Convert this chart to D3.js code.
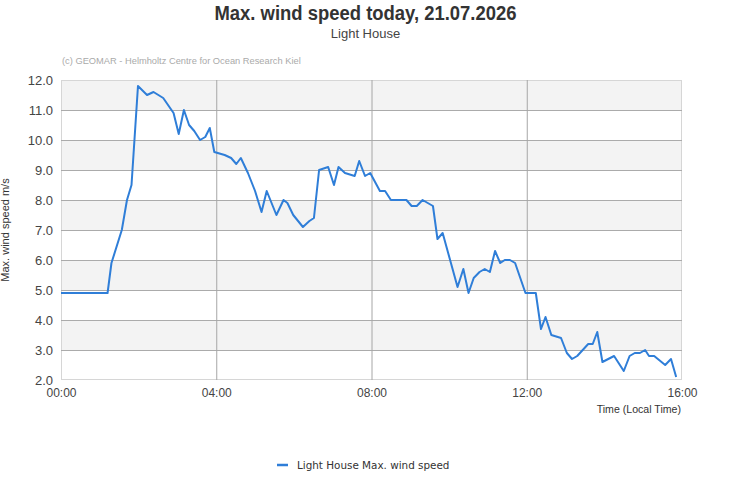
<!DOCTYPE html>
<html>
<head>
<meta charset="utf-8">
<script src="https://cdn.jsdelivr.net/npm/d3@7"></script>
<style>
  body { margin: 0; background: #fff; }
  svg { display: block; }
</style>
</head>
<body>
<div class="chart"></div>
<script>
// data (local time, m/s)
const times = ["00:00","01:12","01:18","01:34","01:42","01:49","01:59","02:13","02:23","02:38",
  "02:54","03:02","03:10","03:18","03:26","03:35","03:43","03:50","03:57","04:13",
  "04:23","04:31","04:38","04:49","05:00","05:10","05:18","05:33","05:44","05:50",
  "05:59","06:14","06:24","06:31","06:39","06:53","07:02","07:09","07:19","07:34",
  "07:41","07:50","07:58","08:13","08:21","08:30","08:54","09:02","09:10","09:19",
  "09:35","09:42","09:50","10:13","10:22","10:30","10:38","10:47","10:55","11:03",
  "11:11","11:19","11:26","11:34","11:42","11:50","11:58","12:14","12:22","12:29",
  "12:38","12:53","13:02","13:10","13:18","13:35","13:42","13:49","13:57","14:15",
  "14:30","14:39","14:47","14:55","15:03","15:09","15:17","15:34","15:43","15:51"];
const speeds = [4.9,4.9,5.9,7.0,8.0,8.5,11.8,11.5,11.6,11.4,
  10.9,10.2,11.0,10.5,10.3,10.0,10.1,10.4,9.6,9.5,
  9.4,9.2,9.4,8.9,8.3,7.6,8.3,7.5,8.0,7.9,
  7.5,7.1,7.3,7.4,9.0,9.1,8.5,9.1,8.9,8.8,
  9.3,8.8,8.9,8.3,8.3,8.0,8.0,7.8,7.8,8.0,
  7.8,6.7,6.9,5.1,5.7,4.9,5.4,5.6,5.7,5.6,
  6.3,5.9,6.0,6.0,5.9,5.4,4.9,4.9,3.7,4.1,
  3.5,3.4,2.9,2.7,2.8,3.2,3.2,3.6,2.6,2.8,
  2.3,2.8,2.9,2.9,3.0,2.8,2.8,2.5,2.7,2.1];
const xTicks = ["00:00","04:00","08:00","12:00","16:00"];
const yTicks = [2,3,4,5,6,7,8,9,10,11,12];
const seriesName = "Light House Max. wind speed";

const width = 731, height = 500;
const margin = { top: 80, right: 49, bottom: 120, left: 61 };
const parseTime = d3.timeParse("%H:%M");
const data = times.map((t, i) => ({ date: parseTime(t), value: speeds[i] }));

const svg = d3.select(".chart").append("svg")
  .attr("width", width)
  .attr("height", height)
  .style("font-family", "'Liberation Sans', Arial, sans-serif");

const xScale = d3.scaleTime()
  .domain([parseTime(xTicks[0]), d3.timeHour.offset(parseTime(xTicks[0]), 16)])
  .range([margin.left, width - margin.right]);
const yScale = d3.scaleLinear()
  .domain([2, 12])
  .range([height - margin.bottom, margin.top]);

// alternating bands
svg.append("g")
  .selectAll("rect")
  .data(yTicks.slice(0, -1))
  .join("rect")
  .attr("x", margin.left)
  .attr("width", width - margin.right - margin.left)
  .attr("y", d => yScale(d + 1))
  .attr("height", d => yScale(d) - yScale(d + 1))
  .attr("fill", d => d % 2 === 1 ? "#f3f3f3" : "#ffffff");

// plot frame
svg.append("rect")
  .attr("x", margin.left + 0.5)
  .attr("y", margin.top + 0.5)
  .attr("width", width - margin.right - margin.left - 1)
  .attr("height", yScale(2) - yScale(12) - 1)
  .attr("fill", "none")
  .attr("stroke", "#d6d6d6");

// y axis + horizontal grid
svg.append("g")
  .attr("transform", `translate(${margin.left},0)`)
  .call(d3.axisLeft(yScale).tickValues(yTicks).tickFormat(d3.format(".1f")).tickSize(0).tickPadding(8))
  .call(g => g.select(".domain").remove())
  .call(g => g.selectAll(".tick text")
    .attr("fill", "#444").style("font-size", "13px"))
  .call(g => g.selectAll(".tick").filter(d => d > 2 && d < 12).append("line")
    .attr("x2", width - margin.right - margin.left)
    .attr("stroke", "#ababab"));

// x axis + vertical grid
svg.append("g")
  .attr("transform", `translate(0,${yScale(2)})`)
  .call(d3.axisBottom(xScale).tickValues(xTicks.map(parseTime)).tickFormat(d3.timeFormat("%H:%M")).tickSize(0).tickPadding(8))
  .call(g => g.select(".domain").remove())
  .call(g => g.selectAll(".tick text")
    .attr("fill", "#444").style("font-size", "12px"))
  .call(g => g.selectAll(".tick").filter((d, i) => i > 0 && i < xTicks.length - 1).append("line")
    .attr("y2", yScale(12) - yScale(2))
    .attr("stroke", "#a6a6a6"));

// the series
const line = d3.line()
  .x(d => xScale(d.date))
  .y(d => yScale(d.value));

svg.append("path")
  .datum(data)
  .attr("fill", "none")
  .attr("stroke", "#2f7ed8")
  .attr("stroke-width", 2)
  .attr("stroke-linejoin", "round")
  .attr("d", line);

// titles (the reference font is condensed)
svg.append("text")
  .attr("x", width / 2)
  .attr("y", 20)
  .attr("text-anchor", "middle")
  .attr("fill", "#333")
  .attr("textLength", 302)
  .attr("lengthAdjust", "spacingAndGlyphs")
  .style("font-size", "20px")
  .style("font-weight", "bold")
  .text("Max. wind speed today, 21.07.2026");

svg.append("text")
  .attr("x", width / 2)
  .attr("y", 38)
  .attr("text-anchor", "middle")
  .attr("fill", "#444")
  .style("font-size", "13px")
  .text("Light House");

svg.append("text")
  .attr("x", 62)
  .attr("y", 64)
  .attr("fill", "#aaa")
  .style("font-size", "9.3px")
  .text("(c) GEOMAR - Helmholtz Centre for Ocean Research Kiel");

svg.append("text")
  .attr("transform", `translate(9,${(yScale(2) + yScale(12)) / 2}) rotate(-90)`)
  .attr("text-anchor", "middle")
  .attr("fill", "#333")
  .style("font-size", "11px")
  .text("Max. wind speed m/s");

svg.append("text")
  .attr("x", width - margin.right - 1)
  .attr("y", 413)
  .attr("text-anchor", "end")
  .attr("fill", "#333")
  .style("font-size", "10.6px")
  .text("Time (Local Time)");

// legend
const legend = svg.append("g").attr("transform", "translate(277,465)");
legend.append("line")
  .attr("x1", 0).attr("x2", 11)
  .attr("stroke", "#2f7ed8").attr("stroke-width", 2.5);
legend.append("text")
  .attr("x", 20)
  .attr("y", 4)
  .attr("fill", "#333")
  .style("font-size", "10.4px")
  .style("font-family", "'DejaVu Sans', sans-serif")
  .text(seriesName);
</script>
</body>
</html>
